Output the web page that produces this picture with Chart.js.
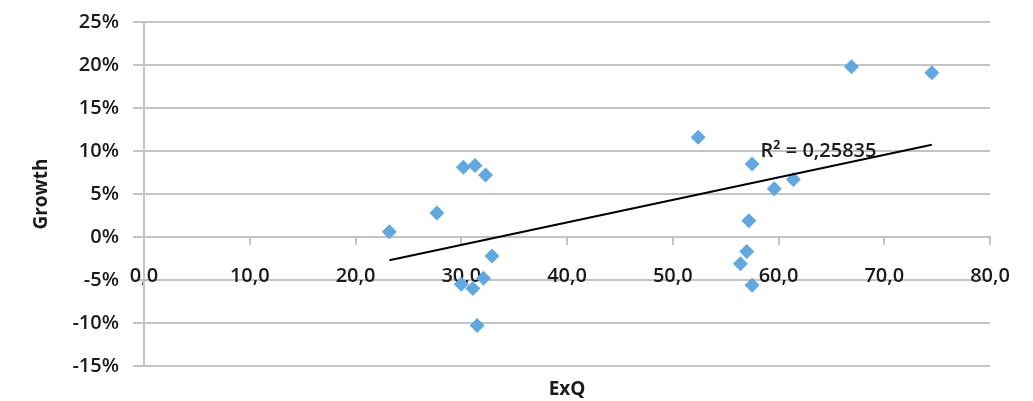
<!DOCTYPE html>
<html>
<head>
<meta charset="utf-8">
<script src="https://cdn.jsdelivr.net/npm/chart.js@4/dist/chart.umd.min.js"></script>
<style>
  body { margin: 0; background: #fff; }
  #wrap { width: 1033px; height: 401px; }
</style>
</head>
<body>
<div id="wrap"><canvas id="chart" width="1033" height="401"></canvas></div>
<script>
// ExQ vs Growth (growth in %)
const exq = [23.2, 27.7, 30.2, 31.3, 32.3, 32.9, 30.0, 31.1, 32.1, 31.5,
             52.4, 57.5, 61.4, 59.6, 57.2, 57.0, 56.4, 57.5, 66.9, 74.5];
const growth = [0.6, 2.8, 8.1, 8.3, 7.2, -2.2, -5.5, -6.0, -4.8, -10.3,
                11.6, 8.5, 6.7, 5.6, 1.9, -1.7, -3.1, -5.6, 19.8, 19.1];
const xTicks = [0, 10, 20, 30, 40, 50, 60, 70, 80];
const yTicks = [-15, -10, -5, 0, 5, 10, 15, 20, 25];
const r2Text = 'R² = 0,25835';

// linear trendline (least squares)
const n = exq.length;
const mx = exq.reduce((a, b) => a + b, 0) / n;
const my = growth.reduce((a, b) => a + b, 0) / n;
let sxy = 0, sxx = 0;
for (let i = 0; i < n; i++) {
  sxy += (exq[i] - mx) * (growth[i] - my);
  sxx += (exq[i] - mx) * (exq[i] - mx);
}
const slope = sxy / sxx;
const icpt = my - slope * mx;
const xMin = Math.min(...exq), xMax = Math.max(...exq);
const trend = [{x: xMin, y: icpt + slope * xMin}, {x: xMax, y: icpt + slope * xMax}];

const points = exq.map((v, i) => ({x: v, y: growth[i]}));

const gridColor = '#c4c4c4';
const textColor = '#1b1b1b';
const fontFam = "'Open Sans', sans-serif";

// R² label drawn next to the end of the trendline
const r2Label = {
  id: 'r2Label',
  afterDatasetsDraw(chart) {
    const ctx = chart.ctx;
    const x = chart.scales.x.getPixelForValue(58.3);
    const y = chart.scales.y.getPixelForValue(10);
    ctx.save();
    ctx.font = '600 20px ' + fontFam;
    ctx.fillStyle = textColor;
    ctx.textAlign = 'left';
    ctx.textBaseline = 'middle';
    ctx.fillText(r2Text, x, y);
    ctx.restore();
  }
};

new Chart(document.getElementById('chart'), {
  type: 'scatter',
  data: {
    datasets: [
      {
        type: 'line',
        label: 'trend',
        data: trend,
        borderColor: '#000',
        borderWidth: 2,
        pointRadius: 0,
        fill: false,
        order: 0
      },
      {
        label: 'Growth',
        data: points,
        pointStyle: 'rectRot',
        pointRadius: 7.5,
        backgroundColor: '#62a8de',
        borderColor: '#62a8de',
        borderWidth: 0,
        order: 1
      }
    ]
  },
  options: {
    responsive: false,
    animation: false,
    layout: { padding: { left: 30, right: 43, top: 22, bottom: 0 } },
    plugins: { legend: { display: false }, tooltip: { enabled: false } },
    scales: {
      x: {
        type: 'linear',
        position: { y: 0 },
        min: 0, max: 80,
        afterBuildTicks: s => { s.ticks = xTicks.map(v => ({value: v})); },
        ticks: {
          color: textColor,
          font: { family: fontFam, size: 20, weight: 600 },
          padding: 20,
          maxRotation: 0,
          autoSkip: false,
          callback: v => v.toFixed(1).replace('.', ',')
        },
        grid: { drawOnChartArea: false, drawTicks: true, tickLength: 7, color: gridColor, lineWidth: 2 },
        border: { color: gridColor, width: 2 }
      },
      x2: {
        type: 'linear',
        position: 'bottom',
        ticks: { display: false },
        grid: { display: false },
        border: { display: false },
        title: { display: true, text: 'ExQ', color: textColor, font: { family: fontFam, size: 19, weight: 'bold' }, padding: 0 },
        afterFit: s => { s.height = 35; }
      },
      y: {
        min: -15, max: 25,
        afterBuildTicks: s => { s.ticks = yTicks.map(v => ({value: v})); },
        ticks: {
          color: textColor,
          font: { family: fontFam, size: 20, weight: 600 },
          padding: 14,
          callback: v => v + '%'
        },
        grid: { color: gridColor, lineWidth: 2, tickLength: 11 },
        border: { color: gridColor, width: 2 },
        title: { display: true, text: 'Growth', color: textColor, font: { family: fontFam, size: 19, weight: 'bold' }, padding: 0 },
        afterFit: s => { s.width = 114; s.paddingTop = 0; s.paddingBottom = 0; }
      }
    }
  },
  plugins: [r2Label]
});
</script>
</body>
</html>
